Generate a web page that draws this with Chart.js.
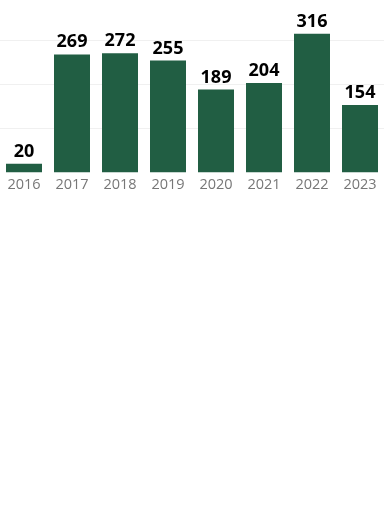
<!DOCTYPE html>
<html>
<head>
<meta charset="utf-8">
<script src="https://cdn.jsdelivr.net/npm/chart.js@4"></script>
<style>
  html, body { margin: 0; padding: 0; background: #fff; }
  #wrap { position: relative; width: 384px; height: 198px; }
</style>
</head>
<body>
<div id="wrap"><canvas id="myBarChart"></canvas></div>
<script>
var years = ['2016', '2017', '2018', '2019', '2020', '2021', '2022', '2023'];
var counts = [20, 269, 272, 255, 189, 204, 316, 154];
var yTicks = [100, 200, 300];

// draws the value above each bar
var valueLabels = {
    id: 'valueLabels',
    afterDatasetsDraw: function (chart) {
        var ctx = chart.ctx;
        var meta = chart.getDatasetMeta(0);
        ctx.save();
        ctx.font = 'bold 18px "Open Sans"';
        ctx.fillStyle = '#000';
        ctx.textAlign = 'center';
        ctx.textBaseline = 'alphabetic';
        meta.data.forEach(function (bar, i) {
            ctx.fillText(chart.data.datasets[0].data[i], bar.x, bar.y - 7);
        });
        ctx.restore();
    }
};

document.addEventListener('DOMContentLoaded', function () {
    var ctx = document.getElementById('myBarChart').getContext('2d');
    var myChart = new Chart(ctx, {
        type: 'bar',
        data: {
            labels: years,
            datasets: [{
                data: counts,
                backgroundColor: '#215e43',
                barPercentage: 0.75,
                categoryPercentage: 1
            }]
        },
        options: {
            responsive: true,
            maintainAspectRatio: false,
            animation: false,
            layout: { padding: 0 },
            plugins: {
                legend: { display: false },
                tooltip: { enabled: false }
            },
            scales: {
                x: {
                    grid: { display: false, drawTicks: false },
                    border: { display: false },
                    ticks: {
                        color: '#777',
                        padding: 4,
                        font: { family: 'Open Sans', size: 14.5 }
                    }
                },
                y: {
                    min: 0,
                    max: 393,
                    afterBuildTicks: function (axis) {
                        axis.ticks = yTicks.map(function (v) { return { value: v }; });
                    },
                    grid: { color: '#f0f0f0', drawTicks: false },
                    border: { display: false },
                    ticks: { display: false }
                }
            }
        },
        plugins: [valueLabels]
    });
});
</script>
</body>
</html>
